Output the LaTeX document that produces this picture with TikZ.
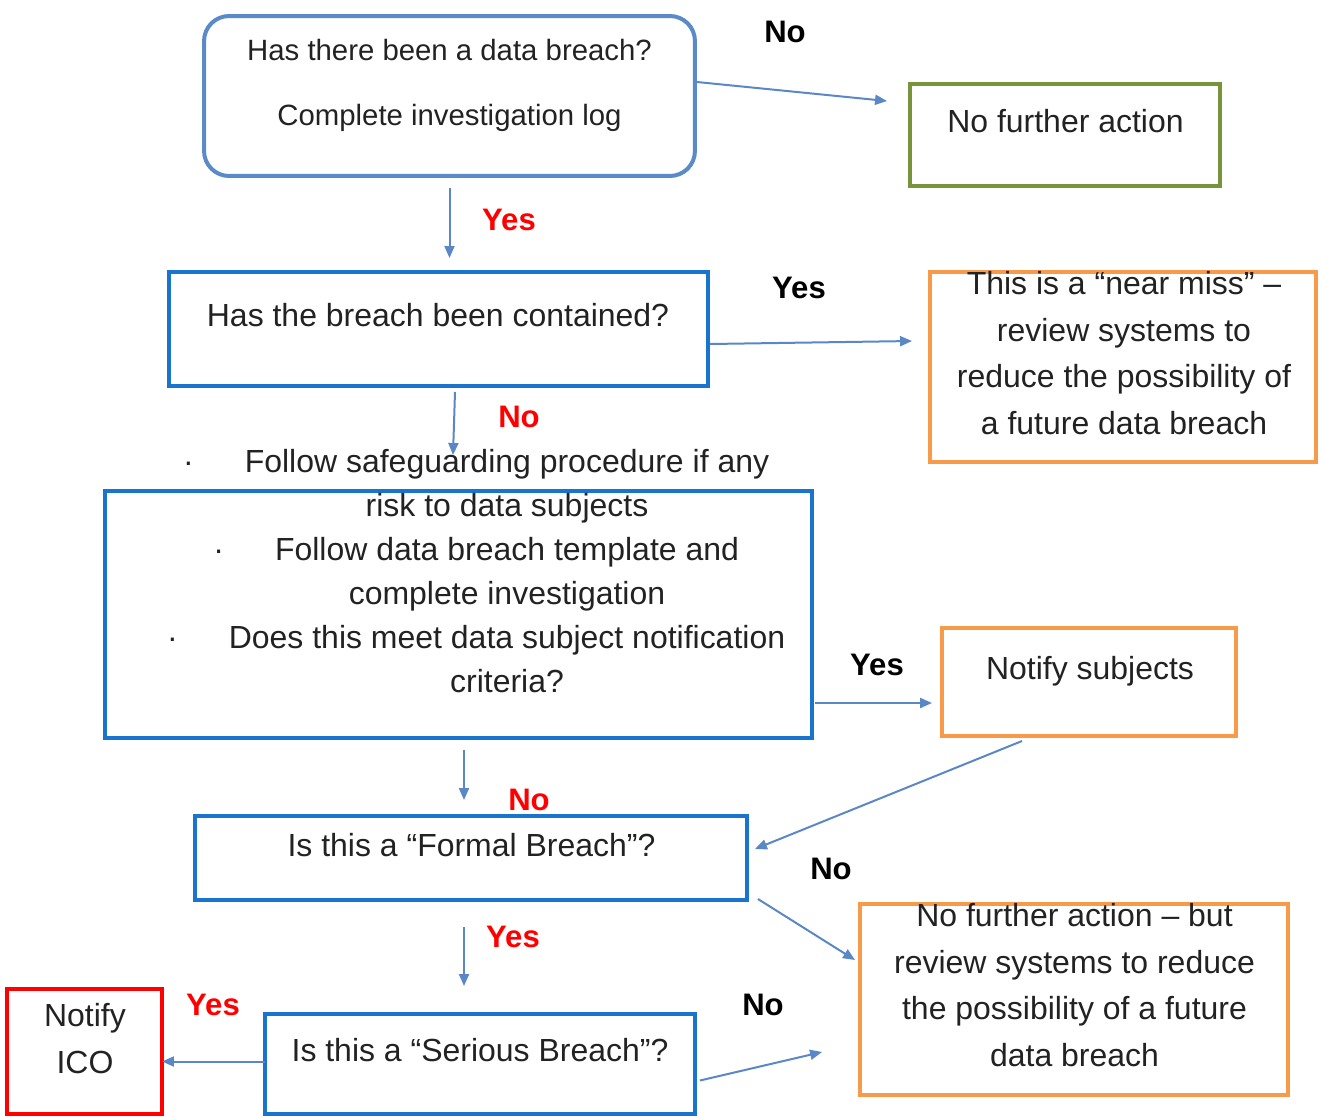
\documentclass[tikz,border=0pt]{standalone}
\usepackage{fontspec}
\setmainfont{Liberation Sans}
\usepackage{tikz}
\usepackage{xcolor}
\usetikzlibrary{arrows.meta}
\definecolor{startblue}{HTML}{5A8AC8}
\definecolor{boxblue}{HTML}{1874CD}
\definecolor{boxgreen}{HTML}{77933C}
\definecolor{boxorange}{HTML}{F79A4A}
\definecolor{boxred}{HTML}{FF0000}
\definecolor{arrowblue}{HTML}{5B87C7}
\definecolor{textgray}{HTML}{222222}
\tikzset{
    plain-box/.style = {rectangle, line width=0.08cm, outer sep=0pt, inner sep=0pt},
    start-box/.style = {plain-box, draw=startblue, rounded corners=0.5cm},
    blue-box/.style = {plain-box, draw=boxblue},
    green-box/.style = {plain-box, draw=boxgreen},
    orange-box/.style = {plain-box, draw=boxorange},
    red-box/.style = {plain-box, draw=boxred},
    box-text/.style = {anchor=north, inner sep=0pt, align=center, text=textgray, font=\fontsize{18.2}{26.5}\selectfont},
    answer-yes/.style = {text=boxred, font=\bfseries\fontsize{17.7}{20}\selectfont},
    answer-no/.style = {text=black, font=\bfseries\fontsize{17.7}{20}\selectfont},
    flow-arrow/.style = {draw=arrowblue, line width=0.04cm, -{Triangle[length=0.24cm,width=0.2cm]}},
}
\newcommand{\dotitem}{\llap{\textperiodcentered\hspace{1.02cm}}}

\begin{document}
\begin{tikzpicture}[x=0.02cm, y=-0.02cm]
\useasboundingbox (0,0) rectangle (1322,1117);
% boxes
\node [start-box, minimum width=9.82cm, minimum height=3.2cm] (start) at (449.5,96) {};
\node [green-box, minimum width=6.2cm, minimum height=2.04cm] (nofurther) at (1065,135) {};
\node [blue-box, minimum width=10.78cm, minimum height=2.28cm] (contained) at (438.5,329) {};
\node [orange-box, minimum width=7.72cm, minimum height=3.8cm] (nearmiss) at (1123,367) {};
\node [blue-box, minimum width=14.14cm, minimum height=4.94cm] (procedure) at (458.5,614.5) {};
\node [orange-box, minimum width=5.88cm, minimum height=2.16cm] (subjects) at (1089,682) {};
\node [blue-box, minimum width=11.04cm, minimum height=1.68cm] (formal) at (471,858) {};
\node [orange-box, minimum width=8.56cm, minimum height=3.82cm] (review) at (1074,999.5) {};
\node [red-box, minimum width=3.1cm, minimum height=2.5cm] (ico) at (84.5,1051.5) {};
\node [blue-box, minimum width=8.6cm, minimum height=2.0cm] (serious) at (480,1064) {};

% texts
\node [box-text, font=\fontsize{16.7}{24}\selectfont] (start-text) at (449.5,39) {Has there been a data breach?\\[13pt] Complete investigation log};
\node [box-text] (nofurther-text) at (1065.5,109) {No further action};
\node [box-text] (contained-text) at (438,303) {Has the breach been contained?};
\node [box-text] (nearmiss-text) at (1124,271) {This is a “near miss” –\\ review systems to\\ reduce the possibility of\\ a future data breach};
\node [box-text, font=\fontsize{18.2}{25}\selectfont] (procedure-text) at (507,449) {\dotitem Follow safeguarding procedure if any\\ risk to data subjects\\ \dotitem Follow data breach template and\\ complete investigation\\ \dotitem Does this meet data subject notification\\ criteria?};
\node [box-text] (subjects-text) at (1090,656) {Notify subjects};
\node [box-text] (formal-text) at (471.5,833) {Is this a “Formal Breach”?};
\node [box-text] (review-text) at (1074.5,903) {No further action – but\\ review systems to reduce\\ the possibility of a future\\ data breach};
\node [box-text] (ico-text) at (85,1003) {Notify\\ ICO};
\node [box-text] (serious-text) at (480,1038) {Is this a “Serious Breach”?};

% answers
\node [answer-no] (no-1) at (785,32) {No};
\node [answer-yes] (yes-1) at (509,220) {Yes};
\node [answer-no] (yes-2) at (799,288) {Yes};
\node [answer-yes] (no-2) at (519,417) {No};
\node [answer-no] (yes-3) at (877,665) {Yes};
\node [answer-yes] (no-3) at (529,800) {No};
\node [answer-no] (no-4) at (831,869) {No};
\node [answer-yes] (yes-4) at (513,937) {Yes};
\node [answer-yes] (yes-5) at (213,1005) {Yes};
\node [answer-no] (no-5) at (763,1005) {No};

% connectors
\draw [flow-arrow] ([xshift=0.04cm, yshift=0.28cm]start.east) -- ([xshift=-0.46cm, yshift=0.68cm]nofurther.west);
\draw [flow-arrow, shorten <=0.24cm, shorten >=0.28cm] (start.south) -- (start.south |- contained.north);
\draw [flow-arrow] ([xshift=0.04cm, yshift=-0.3cm]contained.east) -- ([xshift=-0.36cm, yshift=0.52cm]nearmiss.west);
\draw [flow-arrow] ([xshift=0.33cm, yshift=-0.12cm]contained.south) -- ([xshift=-0.11cm, yshift=0.72cm]procedure.north);
\draw [flow-arrow, shorten <=0.06cm, shorten >=0.2cm] ([yshift=-1.77cm]procedure.east) -- ([yshift=-1.77cm]procedure.east -| subjects.west);
\draw [flow-arrow, shorten <=0.24cm, shorten >=0.32cm] ([xshift=0.11cm]procedure.south) -- ([xshift=0.11cm]procedure.south |- formal.north);
\draw [flow-arrow] ([xshift=-1.34cm, yshift=-0.1cm]subjects.south) -- ([xshift=0.16cm, yshift=0.18cm]formal.east);
\draw [flow-arrow] ([xshift=0.22cm, yshift=0.02cm]formal.south east) -- ([xshift=-0.1cm, yshift=0.79cm]review.west);
\draw [flow-arrow, shorten <=0.54cm, shorten >=0.56cm] ([xshift=-0.14cm]formal.south) -- ([xshift=-0.14cm]formal.south |- serious.north);
\draw [flow-arrow] ([yshift=0.05cm]serious.west) -- ([yshift=0.05cm]serious.west -| ico.east);
\draw [flow-arrow] ([xshift=0.1cm, yshift=-0.33cm]serious.east) -- ([xshift=-0.76cm, yshift=-1.05cm]review.west);
\end{tikzpicture}
\end{document}
